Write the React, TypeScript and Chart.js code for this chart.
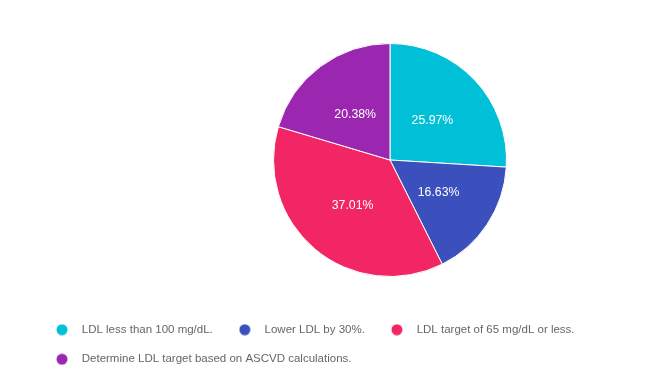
import React, { useEffect, useRef } from "react";
import { Chart, registerables } from "chart.js";

Chart.register(...registerables);

const categories = [
  "LDL less than 100 mg/dL.",
  "Lower LDL by 30%.",
  "LDL target of 65 mg/dL or less.",
  "Determine LDL target based on ASCVD calculations.",
];
const shares = [25.97, 16.63, 37.01, 20.38];
const colors = ["#00C0D8", "#3C50BD", "#F22664", "#9B27B1"];

function makeDot(color: string): HTMLCanvasElement {
  const c = document.createElement("canvas");
  c.width = 12;
  c.height = 12;
  const g = c.getContext("2d")!;
  g.fillStyle = color;
  g.beginPath();
  g.arc(6, 6, 5.5, 0, Math.PI * 2);
  g.fill();
  return c;
}

const pieArea = {
  id: "pieArea",
  afterLayout(chart: any) {
    const a = chart.chartArea;
    const cx = 382;
    const cy = 152;
    const half = 117;
    a.left = cx - half;
    a.right = cx + half;
    a.top = cy - half;
    a.bottom = cy + half;
    a.width = half * 2;
    a.height = half * 2;
  },
};

const sliceLabels = {
  id: "sliceLabels",
  afterDatasetsDraw(chart: any) {
    const ctx = chart.ctx;
    const meta = chart.getDatasetMeta(0);
    ctx.save();
    ctx.fillStyle = "#ffffff";
    ctx.font = "12.3px 'Liberation Sans', Arial, sans-serif";
    ctx.textAlign = "center";
    ctx.textBaseline = "middle";
    meta.data.forEach((arc: any, i: number) => {
      const p = arc.tooltipPosition();
      ctx.fillText(shares[i].toFixed(2) + "%", p.x, p.y + 1);
    });
    ctx.restore();
  },
};

export default function App() {
  const ref = useRef<HTMLCanvasElement | null>(null);
  useEffect(() => {
    if (!ref.current) return;
    const dots = colors.map(makeDot);
    const chart = new Chart(ref.current, {
      type: "pie",
      data: {
        labels: categories,
        datasets: [
          {
            data: shares,
            backgroundColor: colors,
            borderColor: "#ffffff",
            borderWidth: 1,
          },
        ],
      },
      options: {
        animation: false,
        responsive: true,
        maintainAspectRatio: false,
        layout: { padding: { left: 22, right: 10, top: 0, bottom: 7 } },
        plugins: {
          tooltip: { enabled: false },
          legend: {
            position: "bottom",
            align: "start",
            labels: {
              usePointStyle: true,
              pointStyleWidth: 28,
              boxHeight: 12,
              padding: 18,
              color: "#666666",
              font: { family: "'Liberation Sans', Arial, sans-serif", size: 11.5 },
              generateLabels: () =>
                categories.map((text, i) => ({
                  text,
                  fillStyle: colors[i],
                  strokeStyle: colors[i],
                  lineWidth: 0,
                  pointStyle: dots[i] as any,
                  hidden: false,
                  index: i,
                  fontColor: "#666666",
                })),
            },
          },
        },
      },
      plugins: [pieArea, sliceLabels],
    });
    return () => chart.destroy();
  }, []);
  return (
    <div style={{ position: "relative", width: "642px", height: "374px" }}>
      <canvas ref={ref} />
    </div>
  );
}
